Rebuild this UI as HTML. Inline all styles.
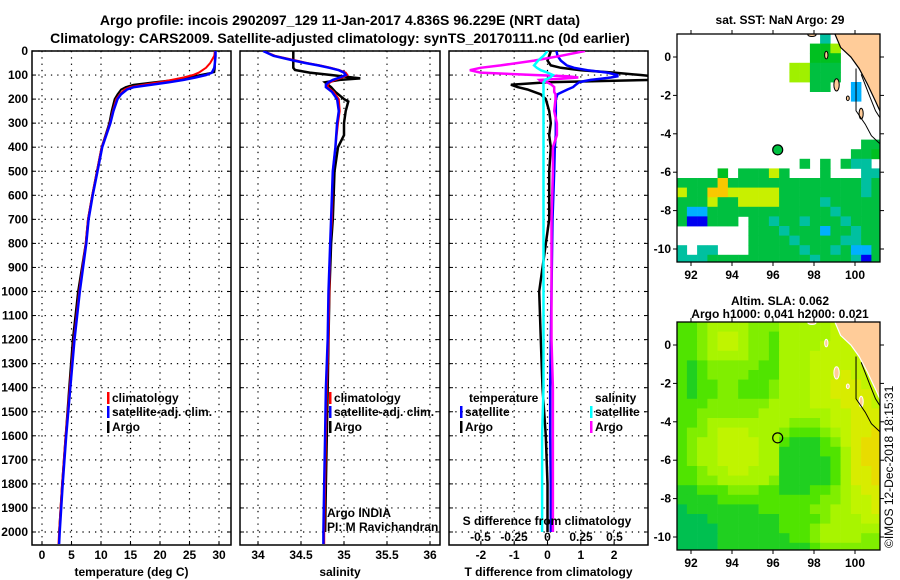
<!DOCTYPE html>
<html><head><meta charset="utf-8"><style>
html,body{margin:0;padding:0;background:#fff;width:900px;height:580px;overflow:hidden}
svg text{font-family:"Liberation Sans",Arial,sans-serif}
.b{font-weight:bold;font-size:12px}
.t{font-weight:bold;font-size:14px}
</style></head><body>
<svg id="fig" xmlns="http://www.w3.org/2000/svg" width="900" height="580" viewBox="0 0 900 580">
<text class="t" x="340" y="25" text-anchor="middle">Argo profile: incois 2902097_129 11-Jan-2017 4.836S 96.229E (NRT data)</text>
<text class="t" x="340" y="43" text-anchor="middle">Climatology: CARS2009. Satellite-adjusted climatology: synTS_20170111.nc (0d earlier)</text>
<g id="layer"></g>
<text x="893" y="548" font-size="12" transform="rotate(-90 893 548)">©IMOS 12-Dec-2018 18:15:31</text>
</svg>
<script>
// ---------- profile data ----------
const depthT = [0,20,50,70,90,100,110,120,130,140,150,160,180,200,250,300,400,500,600,700,800,1000,1200,1400,1600,1800,2000,2050];
const climT = [29.3,29.2,28.5,27.8,26.6,25.6,24.0,22.0,19.8,17.2,14.9,14.0,13.2,12.6,12.0,11.5,10.1,9.3,8.5,7.8,7.4,6.3,5.4,4.7,4.0,3.4,2.9,2.8];
const satT = [29.4,29.4,29.3,29.2,28.8,27.8,26.0,24.0,21.5,18.5,15.6,14.4,13.4,12.8,12.1,11.6,10.2,9.4,8.6,7.9,7.5,6.4,5.5,4.8,4.1,3.5,3.0,2.9];
const depthArgoT = [0,20,50,70,88,100,110,120,130,140,150,160,180,200,250,300,400,500,600,700,800,1000,1200,1400,1600,1800,2000];
const argoT = [29.3,29.3,29.3,29.3,29.2,26.8,25.0,22.5,19.0,15.5,14.2,13.4,12.8,12.3,11.8,11.4,10.1,9.3,8.5,7.8,7.4,6.1,5.2,4.6,4.0,3.4,2.9];
const depthS = [0,20,40,50,60,70,80,90,100,110,120,130,140,150,170,200,250,300,400,500,700,800,1000,1200,1400,1600,1800,2000,2050];
const climS = [34.06,34.2,34.45,34.57,34.72,34.85,34.95,35.02,35.04,34.98,34.9,34.84,34.81,34.81,34.88,34.94,34.95,34.93,34.9,34.87,34.86,34.84,34.83,34.82,34.80,34.79,34.78,34.77,34.77];
const satS = [34.06,34.18,34.42,34.55,34.7,34.83,34.94,35.0,35.02,34.95,34.87,34.82,34.79,34.79,34.86,34.92,34.94,34.92,34.9,34.87,34.85,34.84,34.82,34.81,34.79,34.78,34.77,34.76,34.76];
const depthArgoS = [0,20,50,70,79,90,100,108,114,120,130,150,170,200,210,250,300,350,400,500,700,800,1000,1200,1400,1600,1800,2000];
const argoS = [34.41,34.41,34.41,34.41,34.43,34.6,34.85,35.05,35.19,34.95,34.78,34.85,34.9,35.0,35.05,35.02,35.0,35.0,34.93,34.89,34.87,34.85,34.83,34.82,34.81,34.80,34.79,34.78];
const depthD = [0,20,40,60,70,80,90,100,105,110,115,120,125,130,140,150,160,170,180,200,250,300,350,400,500,700,1000,1200,1400,1600,1800,2000];
const satDT = [0.27,0.3,0.4,0.58,0.8,1.2,1.8,2.1,2.1,1.9,1.6,1.3,1.1,0.95,0.85,0.77,0.6,0.45,0.3,0.25,0.25,0.25,0.25,0.22,0.2,0.15,0.12,0.1,0.08,0.08,0.1,0.1];
const argoDT = [0.1,0.05,0.0,0.1,0.4,1.0,2.0,2.8,3.2,3.5,3.5,3.2,1.5,0.0,-1.1,-0.9,-0.6,-0.4,-0.2,-0.05,0.05,0.1,0.05,0.1,0.05,0.05,-0.25,-0.2,-0.15,-0.05,0,0];
const argoDS = [0.28,0.1,-0.1,-0.35,-0.5,-0.58,-0.5,-0.1,0.15,0.23,0.1,-0.06,-0.05,0.0,0.03,0.05,0.05,0.05,0.06,0.06,0.05,0.07,0.07,0.04,0.04,0.03,0.03,0.03,0.04,0.04,0.04,0.04];
const satDS = [0,-0.03,-0.07,-0.1,-0.08,-0.05,0,0.04,0.03,0.02,0,-0.02,-0.02,-0.03,-0.03,-0.03,-0.03,-0.03,-0.03,-0.03,-0.03,-0.03,-0.03,-0.03,-0.03,-0.03,-0.03,-0.03,-0.03,-0.04,-0.04,-0.04];
const depthTicks = [0,100,200,300,400,500,600,700,800,900,1000,1100,1200,1300,1400,1500,1600,1700,1800,1900,2000];
const tempTicks = [0,5,10,15,20,25,30];
const salTicks = [34,34.5,35,35.5,36];
const dtTicks = [-2,-1,0,1,2];
const dsTickLabels = ["-0.5","-0.25","0","0.25","0.5"];
const dsTicks = [-0.5,-0.25,0,0.25,0.5];
// ---------- map data ----------
const argoLon = 96.229, argoLat = -4.836;
const lonTicks = [92,94,96,98,100];
const latTicks = [0,-2,-4,-6,-8,-10];
const sstGrid = [
"              c     ",
"             GGl    ",
"             GGG    ",
"           llggg    ",
"           llggg    ",
"             gg  b  ",
"                 b  ",
"                    ",
"                    ",
"                    ",
"                    ",
"                  gg",
"                 ggG",
"            g g gcc",
"    G gggyg   g   cc",
"ggggogggggggggggggcg",
"yggooyyyyyggggggggcg",
"gggyggyyyyggggcggggg",
"gbbggggggggggggcgggg",
"gBBggg ggcggcgggcggg",
"       gggcgggbggcgg",
"       ggggcggggccggg",
"c cc   gggggcggcgbbg",
"cccggggggggggcgggcBg"];
const slaGrid = [
"22344443334444455555","22345543324444455555","22345543324444555555","22344443324445555555",
"21233333224445555555","21233332224445556555","21223322234445566655","21223322234445566665",
"22233333344445556665","22333333444444455666","22344444444333455666","23345554443222345667",
"23445555442111235677","23445555441111224677","23445555441111124677","22344554441111124667",
"22334444431111124667","11222333221112234566","11112222222222334556","01111111222223344556",
"00011111112222344455","00001111112223444444","00001111111223444433","00001111111112333333"];
const landPoly = [[99.0,1.25],[99.3,0.5],[99.8,0.0],[100.2,-0.6],[100.6,-1.4],[101.0,-2.3],[101.3,-3.0],[101.3,1.25]];
</script>
<script>
const NS="http://www.w3.org/2000/svg";
const layer=document.getElementById('layer');
function mk(tag,attrs,parent){const e=document.createElementNS(NS,tag);for(const k in attrs)e.setAttribute(k,attrs[k]);(parent||layer).appendChild(e);return e;}
function txt(s,x,y,cls,anchor,parent){const e=mk('text',{x:x,y:y,'class':cls||'b','text-anchor':anchor||'middle'},parent);e.textContent=s;return e;}
const yD=d=>51+d*0.2405;
const P={top:51,bot:545};
const panels=[
 {name:'temperature-panel',l:32,r:231,x:v=>42+v*5.9,ticks:tempTicks,lab:'temperature (deg C)'},
 {name:'salinity-panel',l:240,r:440,x:v=>258+(v-34)*86,ticks:salTicks,lab:'salinity'},
 {name:'difference-panel',l:449,r:648,x:v=>547.5+v*33.3,ticks:dtTicks,lab:'T difference from climatology'}];
panels.forEach((p,i)=>{
 const g=mk('g',{});
 
 
 const cp=mk('clipPath',{id:'cp'+i},g);mk('rect',{x:p.l,y:P.top,width:p.r-p.l,height:P.bot-P.top},cp);
 depthTicks.forEach(d=>{const l=mk('line',{x1:p.l,x2:p.r,y1:yD(d),y2:yD(d),stroke:'#000','stroke-width':1.2,'stroke-dasharray':'1.3 5'},g);
  
  mk('line',{x1:p.l,x2:p.l+4,y1:yD(d),y2:yD(d),stroke:'#000'},g);mk('line',{x1:p.r,x2:p.r-4,y1:yD(d),y2:yD(d),stroke:'#000'},g);});
 p.ticks.forEach(v=>{const X=p.x(v);
  const l=mk('line',{x1:X,x2:X,y1:P.top,y2:P.bot,stroke:'#000','stroke-width':1.2,'stroke-dasharray':'1.3 5'},g);
  
  mk('line',{x1:X,x2:X,y1:P.bot,y2:P.bot-4,stroke:'#000'},g);
  const t=txt(String(v),X,559,'b','middle',g);
  });
 mk('rect',{x:p.l,y:P.top,width:p.r-p.l,height:P.bot-P.top,fill:'none',stroke:'#000','stroke-width':1.5},g);
 const at=txt(p.lab,(p.l+p.r)/2,576,'b','middle',g);
 
 p.g=g;
});
depthTicks.forEach(d=>{const t=txt(String(d),28,yD(d)+4,'b','end');
 });
function line(p,i,xs,ds,col,name,w){
 const pts=xs.map((v,k)=>p.x(v).toFixed(1)+','+yD(ds[k]).toFixed(1)).join(' ');
 const e=mk('polyline',{points:pts,fill:'none',stroke:col,'stroke-width':w||2,'clip-path':'url(#cp'+i+')'},p.g);
 
 
}
line(panels[0],0,argoT,depthArgoT,'#000','argo-temperature-line',2);
line(panels[0],0,climT,depthT,'#f00','climatology-temperature-line',2);
line(panels[0],0,satT,depthT,'#00f','satellite-temperature-line',2.5);
line(panels[1],1,argoS,depthArgoS,'#000','argo-salinity-line',2.5);
line(panels[1],1,climS,depthS,'#f00','climatology-salinity-line',2);
line(panels[1],1,satS,depthS,'#00f','satellite-salinity-line',2.5);
const pD=panels[2]; const pS={x:v=>547.5+v*134,g:pD.g};
line(pD,2,argoDT,depthD,'#000','argo-t-difference-line',2.5);
line(pD,2,satDT,depthD,'#00f','satellite-t-difference-line',2.5);
line(pS,2,argoDS,depthD,'#f0f','argo-s-difference-line',2.5);
line(pS,2,satDS,depthD,'#0ff','satellite-s-difference-line',2.5);
dsTicks.forEach((v,k)=>{const t=txt(dsTickLabels[k],pS.x(v),541,'b','middle',pD.g);
 });
{const t=txt('S difference from climatology',547,525,'b','middle',pD.g);}
function leg(x,y,col,label,name){const g=mk('g',{});
 
 mk('rect',{x:x,y:y-10,width:2.5,height:12,fill:col},g);txt(label,x+5,y,'b','start',g);}
leg(107,402,'#f00','climatology','legend-climatology-t');
leg(107,416,'#00f','satellite-adj. clim.','legend-satellite-t');
leg(107,431,'#000','Argo','legend-argo-t');
leg(329,402,'#f00','climatology','legend-climatology-s');
leg(329,416,'#00f','satellite-adj. clim.','legend-satellite-s');
leg(329,431,'#000','Argo','legend-argo-s');
{const t=txt('temperature',469,402,'b','start');}
{const t=txt('salinity',595,402,'b','start');}
leg(460,416,'#00f','satellite','legend-satellite-dt');
leg(460,431,'#000','Argo','legend-argo-dt');
leg(590,416,'#0ff','satellite','legend-satellite-ds');
leg(590,431,'#f0f','Argo','legend-argo-ds');
{const t=txt('Argo INDIA',327,517,'','start');t.setAttribute('font-size','12');}
{const t=txt('PI: M Ravichandran',327,531,'','start');t.setAttribute('font-size','12');}
// ---------- maps ----------
const sstCol={g:'#00c040',G:'#00c020',l:'#a0f000',y:'#c8f000',o:'#f8c800',c:'#00c0a0',b:'#00b0ff',B:'#0000f0'};
const slaCol=['#00c050','#20d020','#50e400','#80ee00','#a8f400','#c0f400','#d8ec00','#e8dc00'];
function drawMap(name,top,grid,colfn,coastCol,title1,title2){
 const L=677,R=880,T=top,B=top+228;
 const xL=lon=>691+(lon-92)*20.5, yL=lat=>T+23-lat*19.2;
 const g=mk('g',{});
 
 const id='mc'+top;const cp=mk('clipPath',{id:id},g);mk('rect',{x:L,y:T,width:R-L,height:B-T},cp);
 const cg=mk('g',{'clip-path':'url(#'+id+')'},g);
 grid.forEach((row,r)=>{for(let c=0;c<row.length;c++){const ch=row[c];if(ch===' ')continue;
  const lon0=91.3+c*0.5, lat0=1.2-r*0.5;
  const e=mk('rect',{x:xL(lon0).toFixed(1),y:yL(lat0).toFixed(1),width:10.5,height:10,fill:colfn(ch)},cg);
  }});
 const lp=mk('polygon',{points:landPoly.map(p=>xL(p[0]).toFixed(1)+','+yL(p[1]).toFixed(1)).join(' '),fill:'#ffcc99',stroke:coastCol,'stroke-width':1.2},cg);
 
 [[97.9,1.15,0.2,0.08],[98.6,0.1,0.08,0.2],[99.1,-1.45,0.13,0.32],[99.65,-2.15,0.07,0.12],[100.3,-2.95,0.1,0.28]].forEach(p=>{
  const e=mk('ellipse',{cx:xL(p[0]),cy:yL(p[1]),rx:p[2]*20.5,ry:p[3]*19.2,fill:'#ffcc99',stroke:coastCol,'stroke-width':1},cg);
  });
 mk('polyline',{points:[[100.05,-0.6],[100.05,-2.8],[100.5,-3.5],[100.8,-4.1],[101.3,-4.6]].map(p=>xL(p[0])+','+yL(p[1])).join(' '),fill:'none',stroke:'#000','stroke-width':1},cg);
 mk('polyline',{points:[[100.3,-0.9],[100.7,-2.0],[101.0,-2.8],[101.3,-3.3]].map(p=>xL(p[0])+','+yL(p[1])).join(' '),fill:'none',stroke:'#000','stroke-width':1},cg);
 const ac=mk('circle',{cx:xL(argoLon),cy:yL(argoLat),r:5,fill:title2?'none':'#00c040',stroke:'#000','stroke-width':1.2},g);
 
 mk('rect',{x:L,y:T,width:R-L,height:B-T,fill:'none',stroke:'#000','stroke-width':1.3},g);
 lonTicks.forEach(v=>{mk('line',{x1:xL(v),x2:xL(v),y1:B,y2:B+4,stroke:'#000'},g);mk('line',{x1:xL(v),x2:xL(v),y1:T,y2:T-4,stroke:'#000'},g);
  const t=txt(String(v),xL(v),B+17,'b','middle',g);});
 latTicks.forEach(v=>{mk('line',{x1:L,x2:L-4,y1:yL(v),y2:yL(v),stroke:'#000'},g);mk('line',{x1:R,x2:R+4,y1:yL(v),y2:yL(v),stroke:'#000'},g);
  const t=txt(String(v),671,yL(v)+4,'b','end',g);});
 const t1=txt(title1,780,title2?T-17:T-10,'b','middle',g);
 if(title2){const t2=txt(title2,780,T-4,'b','middle',g);}
}
drawMap('sst-map',34,sstGrid,ch=>sstCol[ch],'#000','sat. SST: NaN Argo: 29',null);
drawMap('sla-map',322,slaGrid,ch=>slaCol[+ch],'#fff','Altim. SLA: 0.062','Argo h1000: 0.041 h2000: 0.021');
</script>
</body></html>
